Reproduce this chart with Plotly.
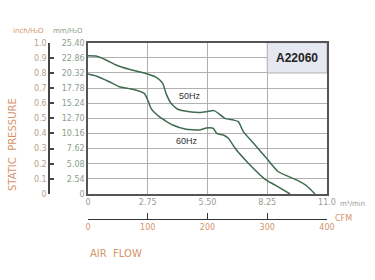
import plotly.graph_objects as go

# ---- data ----
flow_50hz = [0, 0.37, 0.83, 1.29, 1.90, 2.75, 3.21, 3.44, 3.59, 3.82, 4.13, 4.66, 5.15, 5.46, 5.80, 6.0, 6.3, 6.69, 6.92, 7.15, 7.69, 8.22, 8.76, 9.6, 10.07, 10.45]
pres_50hz = [0.914, 0.912, 0.886, 0.853, 0.824, 0.793, 0.765, 0.731, 0.665, 0.60, 0.56, 0.544, 0.539, 0.544, 0.551, 0.533, 0.50, 0.489, 0.478, 0.412, 0.324, 0.236, 0.147, 0.093, 0.053, 0]
flow_60hz = [0, 0.37, 0.98, 1.44, 2.06, 2.59, 2.75, 2.90, 3.28, 3.90, 4.51, 5.12, 5.45, 5.77, 5.92, 6.23, 6.46, 6.77, 7.38, 8.15, 8.6, 9.3]
pres_60hz = [0.793, 0.78, 0.742, 0.709, 0.692, 0.665, 0.621, 0.566, 0.511, 0.456, 0.428, 0.423, 0.436, 0.434, 0.40, 0.39, 0.368, 0.302, 0.203, 0.097, 0.06, 0]

inch_ticks = [0, 0.1, 0.2, 0.3, 0.4, 0.5, 0.6, 0.7, 0.8, 0.9, 1.0]
inch_labels = ["0", "0.1", "0.2", "0.3", "0.4", "0.5", "0.6", "0.7", "0.8", "0.9", "1.0"]
mm_labels = ["0", "2.54", "5.08", "7.62", "10.16", "12.70", "15.24", "17.78", "20.32", "22.86", "25.40"]
m3_ticks = [0, 2.75, 5.5, 8.25, 11.0]
m3_labels = ["0", "2.75", "5.50", "8.25", "11.0"]
cfm_ticks = [0, 100, 200, 300, 400]
cfm_labels = ["0", "100", "200", "300", "400"]
model = "A22060"

W, H = 375, 280
L, R, T, B = 88, 327, 42.7, 194
xdom = [L / W, R / W]
ydom = [1 - B / H, 1 - T / H]

curve_col = "#3f6b50"
tan = "#d4946a"
gray_txt = "#9a9a92"
mm_col = "#8e9e8c"
font = "DejaVu Sans"


def px(xp, yp):
    return xp / W, 1 - yp / H


fig = go.Figure()
for fx, py in ((flow_50hz, pres_50hz), (flow_60hz, pres_60hz)):
    fig.add_trace(go.Scatter(x=fx, y=py, mode="lines",
                             line=dict(color=curve_col, width=1.5, shape="spline", smoothing=0.5),
                             hoverinfo="skip", showlegend=False))
# invisible carriers for secondary axes
fig.add_trace(go.Scatter(x=[cfm_ticks[0], cfm_ticks[-1]], y=[0, 0], xaxis="x2", yaxis="y",
                         mode="markers", marker=dict(opacity=0), hoverinfo="skip", showlegend=False))
fig.add_trace(go.Scatter(x=[0, 0], y=[inch_ticks[0], inch_ticks[-1]], xaxis="x", yaxis="y2",
                         mode="markers", marker=dict(opacity=0), hoverinfo="skip", showlegend=False))


def ann(text, xp, yp, size, color, xanchor="center", angle=0):
    x, y = px(xp, yp)
    return dict(text=text, x=x, y=y, xref="paper", yref="paper", showarrow=False,
                xanchor=xanchor, yanchor="middle", textangle=angle,
                font=dict(size=size, color=color))


fig.update_layout(
    width=W, height=H,
    margin=dict(l=0, r=0, t=0, b=0),
    paper_bgcolor="white", plot_bgcolor="white",
    font=dict(family=font, size=8, color=gray_txt),
    xaxis=dict(domain=xdom, range=[0, 11], tickvals=m3_ticks, ticktext=m3_labels,
               showgrid=True, gridcolor="#b0b0b0", gridwidth=1, zeroline=False,
               showline=True, mirror=True, linecolor="#555555", linewidth=1.5,
               ticks="", tickfont=dict(color=gray_txt, size=8), automargin=False, anchor="y"),
    yaxis=dict(domain=ydom, range=[0, 1], tickvals=inch_ticks, ticktext=mm_labels,
               showgrid=True, gridcolor="#b0b0b0", gridwidth=1, zeroline=False,
               showline=True, mirror=True, linecolor="#555555", linewidth=1.5,
               ticks="", tickfont=dict(color=mm_col, size=8), automargin=False, anchor="x"),
    xaxis2=dict(overlaying="x", anchor="free", position=1 - 219 / H, side="bottom",
                range=[0, 400], tickvals=cfm_ticks, ticktext=cfm_labels,
                showgrid=False, zeroline=False, showline=True, linecolor="#333333", linewidth=1.2,
                ticks="inside", ticklen=6, tickcolor="#333333", tickwidth=1.2,
                tickfont=dict(color=tan, size=8), automargin=False),
    yaxis2=dict(overlaying="y", anchor="free", position=49 / W, side="left",
                range=[0, 1], tickvals=inch_ticks, ticktext=inch_labels,
                showgrid=False, zeroline=False, showline=True, linecolor="#444444", linewidth=1.5,
                ticks="inside", ticklen=4, tickcolor="#444444", tickwidth=1.5,
                tickfont=dict(color="#b8a088", size=8), automargin=False),
    shapes=[dict(type="rect", xref="x", yref="y", x0=m3_ticks[3], x1=m3_ticks[4], y0=0.8, y1=1.0,
                 fillcolor="#e6e8f1", line=dict(color="#b0b0b0", width=1), layer="between")],
    annotations=[
        dict(text="<b>" + model + "</b>", x=(m3_ticks[3] + m3_ticks[4]) / 2, y=0.9, xref="x", yref="y",
             showarrow=False, font=dict(family="Liberation Sans", size=12, color="#222222"),
             xanchor="center", yanchor="middle"),
        dict(text="50Hz", x=4.7, y=0.65, xref="x", yref="y", showarrow=False,
             font=dict(family="Liberation Sans", size=9, color="#333333")),
        dict(text="60Hz", x=4.55, y=0.35, xref="x", yref="y", showarrow=False,
             font=dict(family="Liberation Sans", size=9, color="#333333")),
        ann("inch/H₂O", 28, 31, 7, tan),
        ann("mm/H₂O", 68, 31, 7, mm_col),
        ann("STATIC  PRESSURE", 12, 145, 10, tan, angle=-90),
        ann("m³/min", 338, 204, 7, gray_txt, xanchor="left"),
        ann("CFM", 333, 218, 8, tan, xanchor="left"),
        ann("AIR  FLOW", 88, 253, 10, tan, xanchor="left"),
    ],
)

fig.write_html("out.html")
